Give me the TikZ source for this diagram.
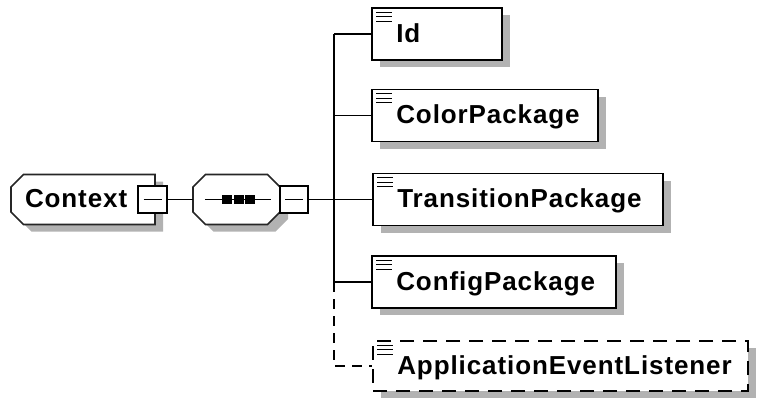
\documentclass[tikz,border=0pt]{standalone}
\usepackage{fontspec}
\setmainfont{Liberation Sans}
\newfontfamily\elemfont{Liberation Sans}[LetterSpace=3.5]
\usetikzlibrary{shadows}

\tikzset{
  boxshadow/.style={drop shadow={shadow xshift=8pt, shadow yshift=-7pt, fill=black!30, opacity=1}},
  elembox/.style={draw=black, line width=1.8pt, fill=white, rectangle,
    minimum height=52pt, inner sep=0pt, boxshadow},
  optbox/.style={elembox, dash pattern=on 14pt off 9pt, minimum height=50pt},
  octshape/.style={draw=black!85, line width=1.6pt, fill=white, line join=miter, boxshadow},
  anchorbox/.style={rectangle, inner sep=0pt, minimum height=50pt},
  expbox/.style={draw=black, line width=1.5pt, fill=white, rectangle, inner sep=0pt,
    minimum width=28pt, minimum height=27pt},
  conn/.style={draw=black, line width=1.4pt},
  optconn/.style={conn, dash pattern=on 10pt off 7pt},
  iconline/.style={draw=black, line width=1.2pt},
  elemtext/.style={font=\elemfont\bfseries\fontsize{26pt}{30pt}\selectfont,
    inner sep=0pt, anchor=base west},
}

\begin{document}
\begin{tikzpicture}[x=1pt, y=-1pt]
\useasboundingbox (0,0) rectangle (758,402);

% root element: box with cut left corners, and its collapse box
\path[octshape] (11,187) -- (23.5,174.5) -- (155,174.5) -- (155,224.5)
  -- (23.5,224.5) -- (11,212) -- cycle;
\node[anchorbox, minimum width=144pt] (ctx) at (83,199.5) {};
\node[elemtext] at ([xshift=14pt, yshift=-8pt]ctx.west) {Context};
\node[expbox, minimum width=29pt] (ctxx) at (152.5,199.5) {};
\draw[conn] ([xshift=-9pt]ctxx.center) -- ([xshift=9pt]ctxx.center);

% sequence compositor: octagon with its collapse box
\path[octshape] (193,187) -- (205.5,174.5) -- (267.5,174.5) -- (280,187)
  -- (280,212) -- (267.5,224.5) -- (205.5,224.5) -- (193,212) -- cycle;
\node[anchorbox, minimum width=87pt] (seq) at (236.5,199.5) {};
\draw[conn] ([xshift=12pt]seq.west) -- ([xshift=-9pt]seq.east);
\foreach \x in {222,233.5,245} \fill (\x,195) rectangle ++(10,9);
\node[expbox] (seqx) at (294,199.5) {};
\draw[conn] ([xshift=-9pt]seqx.center) -- ([xshift=9pt]seqx.center);

% child elements
\node[elembox, minimum width=130pt] (id)  at (437,34)    {};
\node[elembox, minimum width=226pt] (col) at (485,115.5) {};
\node[elembox, minimum width=290pt] (tra) at (518,199.5) {};
\node[elembox, minimum width=244pt] (cfg) at (494,282)   {};
\node[optbox,  minimum width=375pt] (app) at (560.5,366) {};

\foreach \n/\t in {id/Id, col/ColorPackage, tra/TransitionPackage,
                   cfg/ConfigPackage, app/ApplicationEventListener}{
  \node[elemtext] at ([xshift=25pt, yshift=-8pt]\n.west) {\t};
  \foreach \d in {5,9.5,14}
    \draw[iconline] ([xshift=5pt, yshift=-\d pt]\n.north west) -- ++(16pt,0pt);
}

% connectors
\coordinate (spine) at (334,0);
\draw[conn] (ctxx.east) -- (seq.west);
\draw[conn] (seqx.east) -- (tra.west);
\draw[conn] (id.west -| spine) -- (cfg.west -| spine);
\foreach \n in {id,col,cfg} \draw[conn] (\n.west -| spine) -- (\n.west);
\draw[optconn] (cfg.west -| spine) |- (app.west);
\end{tikzpicture}
\end{document}
